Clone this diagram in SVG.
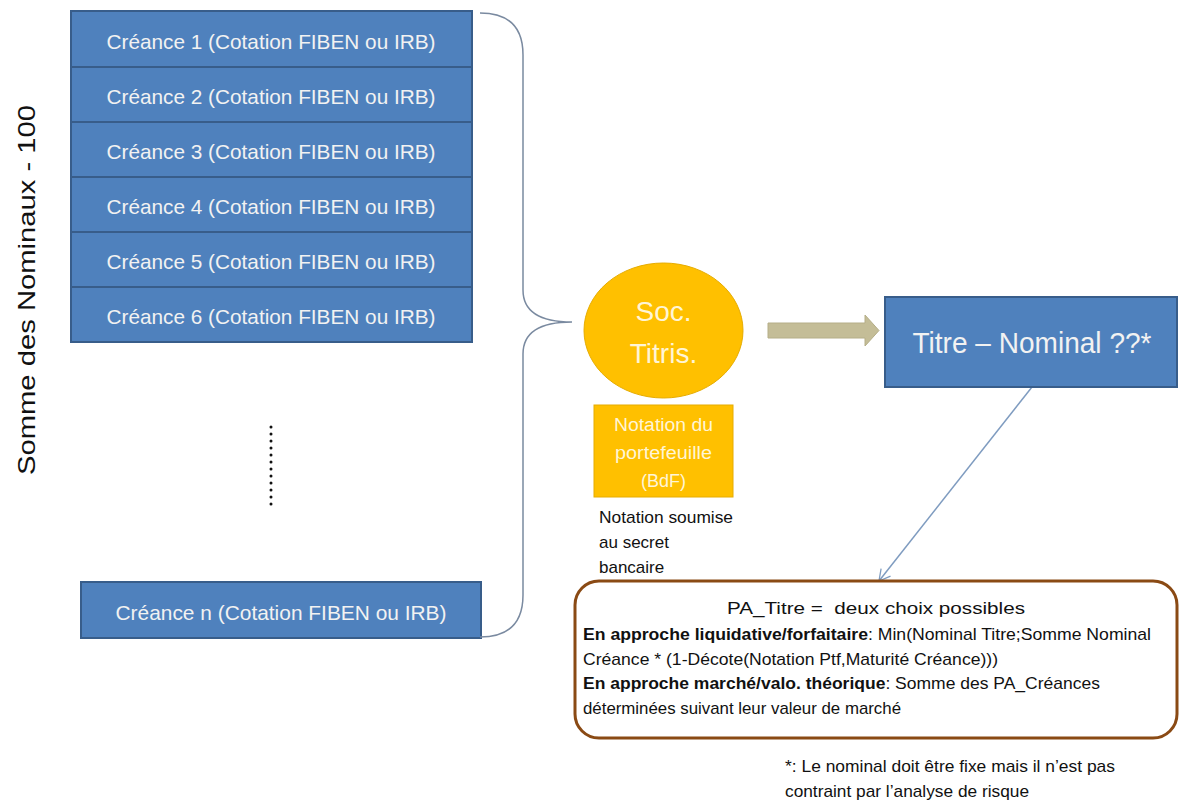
<svg xmlns="http://www.w3.org/2000/svg" width="1184" height="805" viewBox="0 0 1184 805">
<defs>
<style>
.box{fill:#4F81BD;stroke:#385D8A;stroke-width:2}
.wt{font-family:"Liberation Sans",Arial,sans-serif;fill:#F2F2F2;text-anchor:middle}
.bt{font-family:"Liberation Sans",Arial,sans-serif;fill:#111;font-size:17px}
.yel{fill:#FFC000;stroke:#E6AC00;stroke-width:1}
.ct{font-family:"Liberation Sans",Arial,sans-serif;fill:#FFF5D6;text-anchor:middle}
</style>
<marker id="open" markerWidth="14" markerHeight="14" refX="12" refY="7" orient="auto" markerUnits="userSpaceOnUse">
<path d="M1,1 L12,7 L1,13" fill="none" stroke="#7F9CC0" stroke-width="1.3"/>
</marker>
</defs>
<rect width="1184" height="805" fill="#fff"/>

<text transform="translate(35,290) rotate(-90)" font-family="Liberation Sans, Arial, sans-serif" font-size="24" fill="#111" text-anchor="middle" textLength="370" lengthAdjust="spacingAndGlyphs">Somme des Nominaux - 100</text>

<g id="creance1"><rect class="box" x="71" y="11" width="401" height="56"/><text class="wt" x="271" y="49" font-size="21" textLength="329" lengthAdjust="spacingAndGlyphs">Créance 1 (Cotation FIBEN ou IRB)</text></g>
<g id="creance2"><rect class="box" x="71" y="67" width="401" height="55"/><text class="wt" x="271" y="104" font-size="21" textLength="329" lengthAdjust="spacingAndGlyphs">Créance 2 (Cotation FIBEN ou IRB)</text></g>
<g id="creance3"><rect class="box" x="71" y="122" width="401" height="55"/><text class="wt" x="271" y="159" font-size="21" textLength="329" lengthAdjust="spacingAndGlyphs">Créance 3 (Cotation FIBEN ou IRB)</text></g>
<g id="creance4"><rect class="box" x="71" y="177" width="401" height="55"/><text class="wt" x="271" y="214" font-size="21" textLength="329" lengthAdjust="spacingAndGlyphs">Créance 4 (Cotation FIBEN ou IRB)</text></g>
<g id="creance5"><rect class="box" x="71" y="232" width="401" height="55"/><text class="wt" x="271" y="269" font-size="21" textLength="329" lengthAdjust="spacingAndGlyphs">Créance 5 (Cotation FIBEN ou IRB)</text></g>
<g id="creance6"><rect class="box" x="71" y="287" width="401" height="55"/><text class="wt" x="271" y="324" font-size="21" textLength="329" lengthAdjust="spacingAndGlyphs">Créance 6 (Cotation FIBEN ou IRB)</text></g>

<g id="dots"><line x1="271" y1="427" x2="271" y2="511" stroke="#111" stroke-width="3" stroke-dasharray="0 7" stroke-linecap="round"/></g>

<g id="creancen"><rect class="box" x="81" y="582" width="400" height="56"/><text class="wt" x="281" y="620" font-size="21" textLength="331" lengthAdjust="spacingAndGlyphs">Créance n (Cotation FIBEN ou IRB)</text></g>

<g id="connectors">
<path d="M480,13 Q523,13 523,55 L523,290 Q523,322 572,322 Q523,322 523,354 L523,595 Q523,637 480,637" fill="none" stroke="#7A8AA0" stroke-width="1.5"/>
<path d="M768,323 L865,323 L865,315 L879,330.5 L865,346 L865,338 L768,338 Z" fill="#C4BD97" stroke="#B5AE88" stroke-width="1"/>
<line x1="1032" y1="387" x2="879" y2="581" stroke="#7F9CC0" stroke-width="1.5" marker-end="url(#open)"/>
</g>

<g id="soc"><ellipse class="yel" cx="663.5" cy="330.5" rx="79.5" ry="67.5"/><text class="ct" x="663.5" y="321" font-size="28">Soc.</text><text class="ct" x="663.5" y="363" font-size="28">Titris.</text></g>

<g id="notation"><rect class="yel" x="594" y="405" width="139" height="92"/><text class="ct" x="663.5" y="431" font-size="18" textLength="99" lengthAdjust="spacingAndGlyphs">Notation du</text><text class="ct" x="663.5" y="459" font-size="18" textLength="97" lengthAdjust="spacingAndGlyphs">portefeuille</text><text class="ct" x="663.5" y="487" font-size="18">(BdF)</text></g>

<g id="secret"><text class="bt" x="599" y="523" textLength="134" lengthAdjust="spacingAndGlyphs">Notation soumise</text><text class="bt" x="599" y="548">au secret</text><text class="bt" x="599" y="573">bancaire</text></g>

<g id="titre"><rect class="box" x="885" y="297" width="292" height="90"/><text class="wt" x="1032" y="353" font-size="29" textLength="239" lengthAdjust="spacingAndGlyphs">Titre – Nominal ??*</text></g>

<g id="pa"><rect x="575" y="581" width="602" height="157" rx="24" ry="24" fill="#fff" stroke="#8A4A14" stroke-width="3"/>
<text class="bt" x="876" y="614" text-anchor="middle" textLength="298" lengthAdjust="spacingAndGlyphs" style="white-space:pre">PA_Titre =  deux choix possibles</text>
<text class="bt" x="583" y="640" textLength="568" lengthAdjust="spacingAndGlyphs"><tspan font-weight="bold">En approche liquidative/forfaitaire</tspan>: Min(Nominal Titre;Somme Nominal</text>
<text class="bt" x="583" y="665" textLength="415" lengthAdjust="spacingAndGlyphs">Créance * (1-Décote(Notation Ptf,Maturité Créance)))</text>
<text class="bt" x="583" y="689" textLength="517" lengthAdjust="spacingAndGlyphs"><tspan font-weight="bold">En approche marché/valo. théorique</tspan>: Somme des PA_Créances</text>
<text class="bt" x="583" y="714" textLength="318" lengthAdjust="spacingAndGlyphs">déterminées suivant leur valeur de marché</text>
</g>

<g id="footnote"><text class="bt" x="785" y="772" textLength="330" lengthAdjust="spacingAndGlyphs">*: Le nominal doit être fixe mais il n’est pas</text><text class="bt" x="785" y="797" textLength="244" lengthAdjust="spacingAndGlyphs">contraint par l’analyse de risque</text></g>
</svg>
